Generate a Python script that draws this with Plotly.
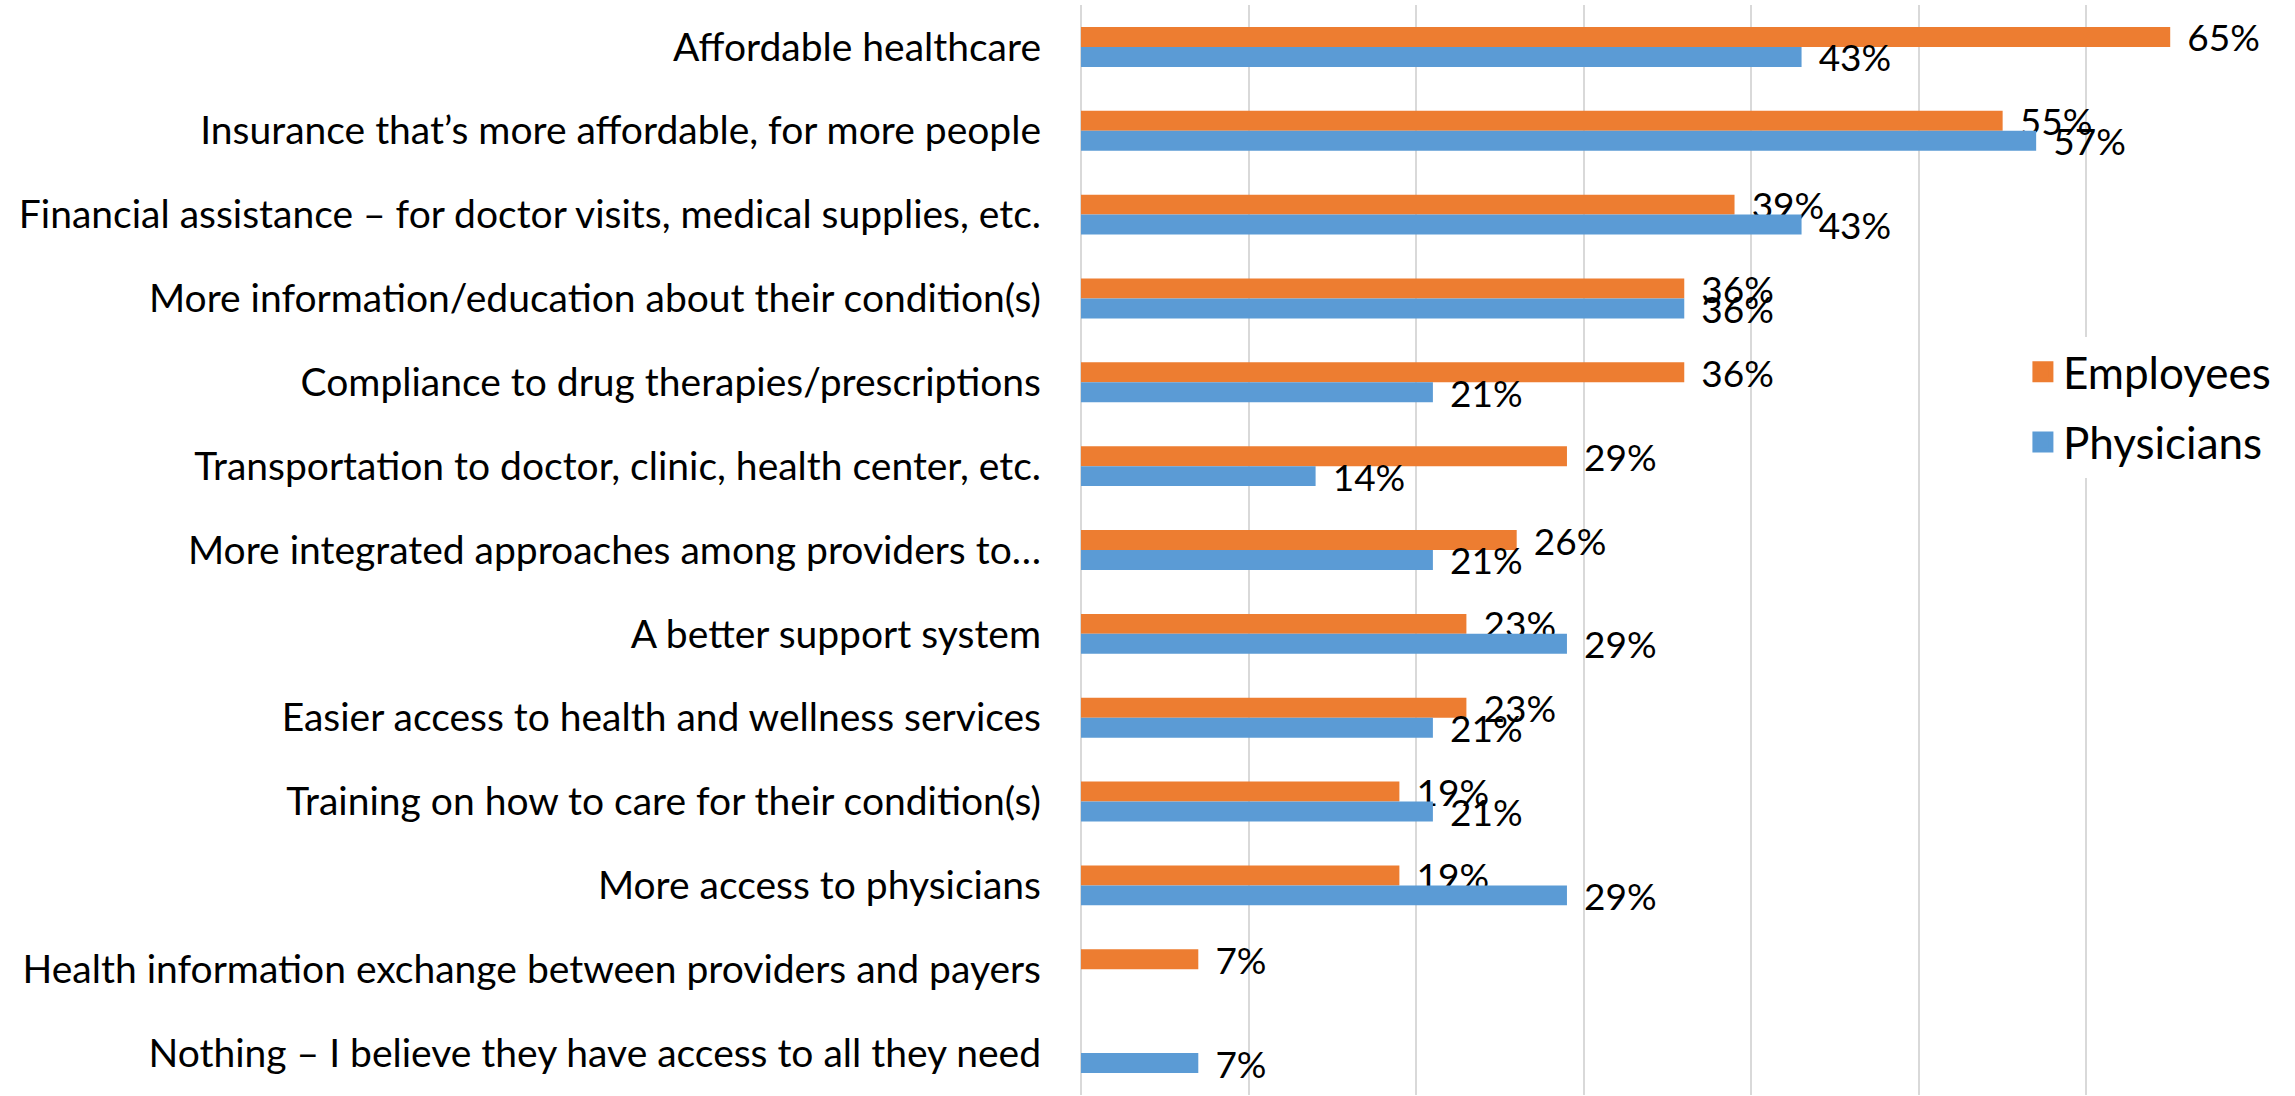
import plotly.graph_objects as go

# Survey items, listed top to bottom
categories = [
    "Affordable healthcare",
    "Insurance that’s more affordable, for more people",
    "Financial assistance – for doctor visits, medical supplies, etc.",
    "More information/education about their condition(s)",
    "Compliance to drug therapies/prescriptions",
    "Transportation to doctor, clinic, health center, etc.",
    "More integrated approaches among providers to…",
    "A better support system",
    "Easier access to health and wellness services",
    "Training on how to care for their condition(s)",
    "More access to physicians",
    "Health information exchange between providers and payers",
    "Nothing – I believe they have access to all they need",
]

employees = [0.65, 0.55, 0.39, 0.36, 0.36, 0.29, 0.26, 0.23, 0.23, 0.19, 0.19, 0.07, None]
physicians = [0.43, 0.57, 0.43, 0.36, 0.21, 0.14, 0.21, 0.29, 0.21, 0.21, 0.29, None, 0.07]

FONT = "Lato"
ORANGE = "#ED7D31"
BLUE = "#5B9BD5"
LABEL_GAP = "\u00a0\u2009"  # small lead-in so the value text sits off the bar end

series = [
    ("Employees", employees, ORANGE, "e"),
    ("Physicians", physicians, BLUE, "p"),
]

fig = go.Figure()
for name, vals, color, grp in series:
    fig.add_trace(go.Bar(
        name=name,
        y=categories,
        x=vals,
        orientation="h",
        marker=dict(color=color, line=dict(width=0)),
        texttemplate=LABEL_GAP + "%{x:.0%}",
        textposition="outside",
        textfont=dict(family=FONT, size=37, color="#000000"),
        constraintext="none",
        cliponaxis=False,
        showlegend=False,
        hoverinfo="x+y",
    ))

# Legend entries with larger square swatches
for name, vals, color, grp in series:
    fig.add_trace(go.Scatter(
        name=name,
        x=[None],
        y=[None],
        mode="markers",
        marker=dict(symbol="square", size=16, color=color,
                    line=dict(color=color, width=5)),
        legendgroup=grp,
        showlegend=True,
        hoverinfo="skip",
    ))

fig.update_layout(
    width=2295,
    height=1096,
    margin=dict(l=1081, r=41, t=5, b=1, autoexpand=False),
    paper_bgcolor="white",
    plot_bgcolor="white",
    barmode="group",
    bargap=0.524,
    bargroupgap=0,
    font=dict(family=FONT, size=39, color="#000000"),
    showlegend=True,
    legend=dict(
        x=0.803, y=0.631, xanchor="left", yanchor="middle",
        bgcolor="white",
        font=dict(family=FONT, size=44, color="#000000"),
        traceorder="grouped",
        tracegroupgap=10,
        itemwidth=30,
    ),
)

fig.update_xaxes(
    range=[0, 0.7],
    dtick=0.1,
    showgrid=True,
    gridcolor="#D9D9D9",
    gridwidth=2,
    zeroline=True,
    zerolinecolor="#D9D9D9",
    zerolinewidth=2,
    showticklabels=False,
    ticks="",
    fixedrange=True,
)
fig.update_yaxes(
    autorange="reversed",
    showgrid=False,
    ticks="",
    ticklabelstandoff=39,
    tickfont=dict(family=FONT, size=39, color="#000000"),
    fixedrange=True,
)

fig.write_html("out.html")
